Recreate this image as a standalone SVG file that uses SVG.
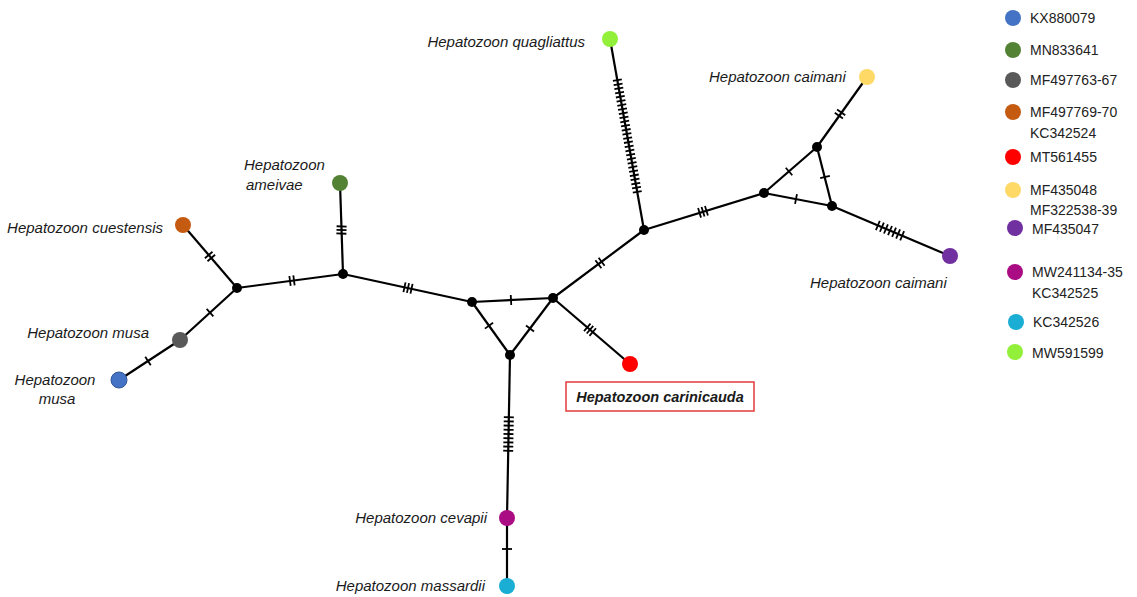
<svg xmlns="http://www.w3.org/2000/svg" width="1137" height="597" viewBox="0 0 1137 597">
<style>
.e{stroke:#000;stroke-width:2.2;fill:none}
.t path{stroke:#000;stroke-width:1.8;fill:none}
.v{fill:#000}
.lbl{font-family:"Liberation Sans",Arial,sans-serif;font-style:italic;font-size:15px;fill:#1a1a1a}
.lg{font-family:"Liberation Sans",Arial,sans-serif;font-size:14px;fill:#222}
</style>
<rect width="1137" height="597" fill="#fff"/>
<g id="connectors">
<line class="e" x1="237" y1="288" x2="183" y2="225"/>
<line class="e" x1="237" y1="288" x2="180" y2="340"/>
<line class="e" x1="180" y1="340" x2="119" y2="380"/>
<line class="e" x1="237" y1="288" x2="343" y2="274"/>
<line class="e" x1="343" y1="274" x2="340" y2="183"/>
<line class="e" x1="343" y1="274" x2="472" y2="302"/>
<line class="e" x1="472" y1="302" x2="553" y2="298"/>
<line class="e" x1="472" y1="302" x2="510" y2="355"/>
<line class="e" x1="553" y1="298" x2="510" y2="355"/>
<line class="e" x1="553" y1="298" x2="630" y2="364"/>
<line class="e" x1="553" y1="298" x2="644" y2="230"/>
<line class="e" x1="644" y1="230" x2="610" y2="39"/>
<line class="e" x1="644" y1="230" x2="764" y2="193"/>
<line class="e" x1="764" y1="193" x2="817" y2="147"/>
<line class="e" x1="764" y1="193" x2="832" y2="206"/>
<line class="e" x1="817" y1="147" x2="832" y2="206"/>
<line class="e" x1="817" y1="147" x2="867" y2="77"/>
<line class="e" x1="832" y1="206" x2="950" y2="256"/>
<line class="e" x1="510" y1="355" x2="507" y2="518"/>
<line class="e" x1="507" y1="518" x2="507" y2="586"/>
<g class="t">
<g transform="translate(627.3,136) rotate(79.9)"><path d="M-56.7,-4.5v9M-52.5,-4.5v9M-48.3,-4.5v9M-44.1,-4.5v9M-39.9,-4.5v9M-35.7,-4.5v9M-31.5,-4.5v9M-27.3,-4.5v9M-23.1,-4.5v9M-18.9,-4.5v9M-14.7,-4.5v9M-10.5,-4.5v9M-6.3,-4.5v9M-2.1,-4.5v9M2.1,-4.5v9M6.3,-4.5v9M10.5,-4.5v9M14.7,-4.5v9M18.9,-4.5v9M23.1,-4.5v9M27.3,-4.5v9M31.5,-4.5v9M35.7,-4.5v9M39.9,-4.5v9M44.1,-4.5v9M48.3,-4.5v9M52.5,-4.5v9M56.7,-4.5v9"/></g>
<g transform="translate(508.5,434) rotate(91.1)"><path d="M-16.8,-5v10M-12.6,-5v10M-8.4,-5v10M-4.2,-5v10M0,-5v10M4.2,-5v10M8.4,-5v10M12.6,-5v10M16.8,-5v10"/></g>
<g transform="translate(890,230.6) rotate(23)"><path d="M-13.2,-5v10M-8.8,-5v10M-4.4,-5v10M0,-5v10M4.4,-5v10M8.8,-5v10M13.2,-5v10"/></g>
<g transform="translate(840,114) rotate(-54.5)"><path d="M-2,-5v10M2,-5v10"/></g>
<g transform="translate(789,171.5) rotate(-41)"><path d="M0,-5v10"/></g>
<g transform="translate(825,177) rotate(75.7)"><path d="M0,-5v10"/></g>
<g transform="translate(796,199) rotate(10.8)"><path d="M0,-5v10"/></g>
<g transform="translate(703,211.8) rotate(-17.1)"><path d="M-3.6,-5v10M0,-5v10M3.6,-5v10"/></g>
<g transform="translate(600,263) rotate(-36.8)"><path d="M-2,-5v10M2,-5v10"/></g>
<g transform="translate(590,329.7) rotate(40.6)"><path d="M-3.6,-5v10M0,-5v10M3.6,-5v10"/></g>
<g transform="translate(511,300) rotate(-2.8)"><path d="M0,-5v10"/></g>
<g transform="translate(489,325.7) rotate(54.4)"><path d="M0,-5v10"/></g>
<g transform="translate(530,328.5) rotate(127)"><path d="M0,-5v10"/></g>
<g transform="translate(408,288) rotate(12.25)"><path d="M-3.6,-5v10M0,-5v10M3.6,-5v10"/></g>
<g transform="translate(341.5,230) rotate(91.9)"><path d="M-3.6,-5v10M0,-5v10M3.6,-5v10"/></g>
<g transform="translate(292,280.7) rotate(-7.5)"><path d="M-2,-5v10M2,-5v10"/></g>
<g transform="translate(210,256.5) rotate(49.4)"><path d="M-2,-5v10M2,-5v10"/></g>
<g transform="translate(210,312.6) rotate(-42.4)"><path d="M0,-5v10"/></g>
<g transform="translate(148,361) rotate(-33.3)"><path d="M0,-5v10"/></g>
<g transform="translate(507,549) rotate(90)"><path d="M0,-5v10"/></g>
</g>
</g>
<g id="median-vectors">
<circle class="v" cx="237" cy="288" r="5"/>
<circle class="v" cx="343" cy="274" r="5"/>
<circle class="v" cx="472" cy="302" r="5"/>
<circle class="v" cx="553" cy="298" r="5"/>
<circle class="v" cx="510" cy="355" r="5"/>
<circle class="v" cx="644" cy="230" r="5"/>
<circle class="v" cx="764" cy="193" r="5"/>
<circle class="v" cx="817" cy="147" r="5"/>
<circle class="v" cx="832" cy="206" r="5"/>
</g>
<g id="node-quagliattus"><circle cx="610" cy="39" r="8" fill="#92F03A"/><text class="lbl" x="585" y="47" text-anchor="end">Hepatozoon quagliattus</text></g>
<g id="node-caimani-1"><circle cx="867" cy="77" r="8" fill="#FFD966"/><text class="lbl" x="709" y="82">Hepatozoon caimani</text></g>
<g id="node-caimani-2"><circle cx="950" cy="256" r="8" fill="#7030A0"/><text class="lbl" x="810" y="288">Hepatozoon caimani</text></g>
<g id="node-ameivae"><circle cx="340" cy="183" r="8" fill="#548235"/><text class="lbl" x="244" y="170">Hepatozoon</text><text class="lbl" x="246" y="190">ameivae</text></g>
<g id="node-cuestensis"><circle cx="183" cy="225" r="8" fill="#C55A11"/><text class="lbl" x="163" y="233" text-anchor="end">Hepatozoon cuestensis</text></g>
<g id="node-musa-1"><circle cx="180" cy="340" r="8" fill="#595959"/><text class="lbl" x="149" y="338" text-anchor="end">Hepatozoon musa</text></g>
<g id="node-musa-2"><circle cx="119" cy="380" r="8" fill="#4472C4" stroke="#2F5597" stroke-width="1"/><text class="lbl" x="55" y="385" text-anchor="middle">Hepatozoon</text><text class="lbl" x="57" y="404" text-anchor="middle">musa</text></g>
<g id="node-carinicauda"><circle cx="630" cy="364" r="8" fill="#FF0000"/><rect x="566" y="382" width="188" height="29" fill="#fff" stroke="#E23B3B" stroke-width="1.5"/><text class="lbl" x="660" y="402" text-anchor="middle" style="font-weight:bold;font-size:14.5px">Hepatozoon carinicauda</text></g>
<g id="node-cevapii"><circle cx="507" cy="518" r="8" fill="#AA0C84"/><text class="lbl" x="487" y="523" text-anchor="end">Hepatozoon cevapii</text></g>
<g id="node-massardii"><circle cx="507" cy="586" r="8" fill="#1AAED4"/><text class="lbl" x="485" y="591" text-anchor="end">Hepatozoon massardii</text></g>
<g id="legend">
<circle cx="1013" cy="18" r="8" fill="#4472C4"/><text class="lg" x="1030" y="23">KX880079</text>
<circle cx="1013" cy="50" r="8" fill="#548235"/><text class="lg" x="1030" y="55">MN833641</text>
<circle cx="1013" cy="80" r="8" fill="#595959"/><text class="lg" x="1030" y="85">MF497763-67</text>
<circle cx="1013" cy="112" r="8" fill="#C55A11"/><text class="lg" x="1030" y="117">MF497769-70</text><text class="lg" x="1030" y="138">KC342524</text>
<circle cx="1013" cy="157" r="8" fill="#FF0000"/><text class="lg" x="1030" y="162">MT561455</text>
<circle cx="1013" cy="190" r="8" fill="#FFD966"/><text class="lg" x="1030" y="195">MF435048</text><text class="lg" x="1030" y="215">MF322538-39</text>
<circle cx="1015" cy="228" r="8" fill="#7030A0"/><text class="lg" x="1032" y="234">MF435047</text>
<circle cx="1015" cy="272" r="8" fill="#AA0C84"/><text class="lg" x="1032" y="277">MW241134-35</text><text class="lg" x="1032" y="298">KC342525</text>
<circle cx="1016" cy="322" r="8" fill="#1AAED4"/><text class="lg" x="1033" y="327">KC342526</text>
<circle cx="1015" cy="352" r="8" fill="#92F03A"/><text class="lg" x="1032" y="358">MW591599</text>
</g>
</svg>
